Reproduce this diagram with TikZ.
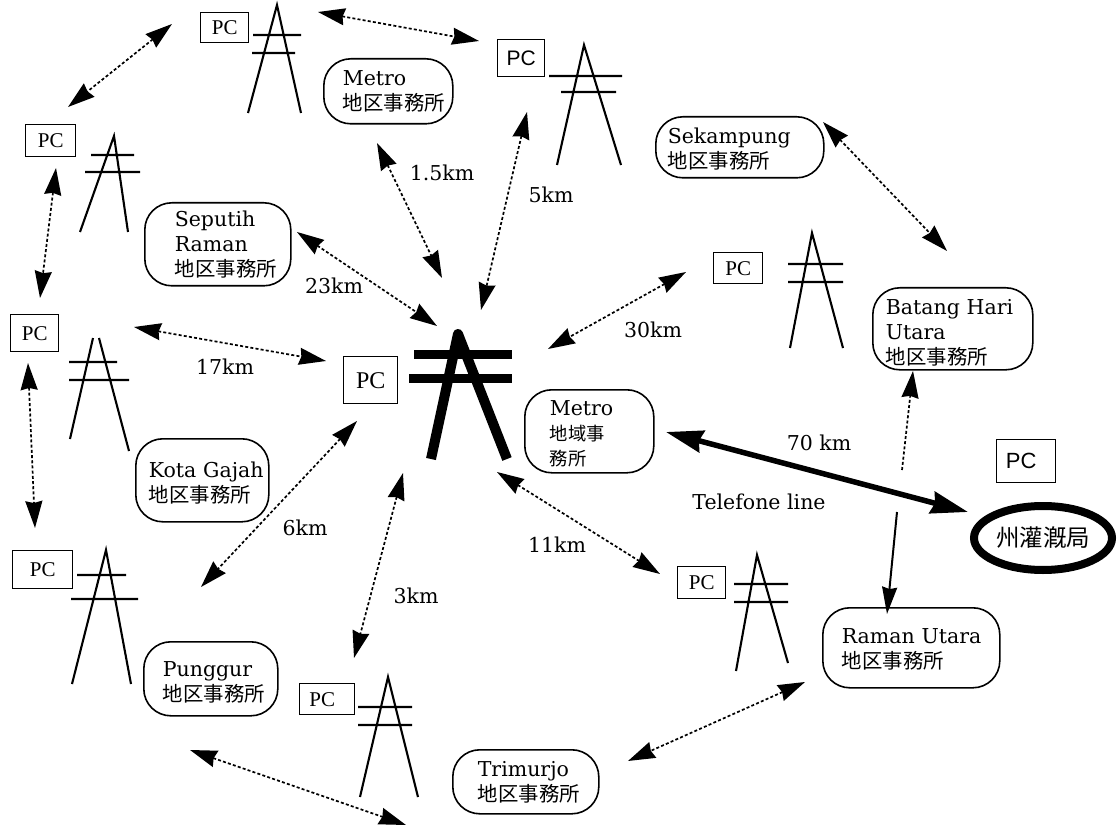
\documentclass[tikz,border=0pt]{standalone}
\usepackage{fontspec}
\usetikzlibrary{arrows.meta,shapes.geometric}
\setmainfont{DejaVu Serif}
\newfontfamily\cjk{Noto Sans CJK JP}
\newfontfamily\pcsans{Liberation Sans}
\newfontfamily\pcserif{Liberation Serif}
\tikzset{
  x=1pt,y=-1pt,
  office/.style={draw,line width=1.6pt,rounded corners=27pt,align=left,inner ysep=0pt,anchor=north west,font=\fontsize{20.5}{25}\selectfont},
  pc/.style={draw,line width=1.4pt,inner sep=0pt,font=\pcserif\fontsize{21}{23}\selectfont,anchor=north west},
  lbl/.style={inner sep=0pt,font=\fontsize{20.5}{24}\selectfont},
  link/.style={dash pattern=on 3pt off 2.2pt,line width=1.7pt,{Stealth[length=27pt,width=17pt,inset=2pt]}-{Stealth[length=27pt,width=17pt,inset=2pt]}},
  mast/.style={line width=2.1pt},
}
\newcommand{\jp}[1]{{\cjk\fontsize{20.4}{25}\selectfont #1}}
\newcommand{\jps}[1]{{\cjk\fontsize{18.3}{25}\selectfont #1}}
\newcommand{\tower}[7]{\draw[mast] (#2) -- (#1) -- (#3) (#4) -- (#5) (#6) -- (#7);}
\newcommand{\topstrut}[1]{\rule{0pt}{#1pt}}
% name, x1, y1, x2, y2, inset, text
\newcommand{\officebox}[7]{\pgfmathsetmacro\tw{#4-#2-2*#6}\pgfmathsetmacro\th{#5-#3}\node[office,inner xsep=#6pt,text width=\tw pt,minimum height=\th pt] (#1) at (#2,#3) {#7};}
\newcommand{\pcbox}[6][]{\pgfmathsetmacro\tw{#5-#3}\pgfmathsetmacro\th{#6-#4}\node[pc,minimum width=\tw pt,minimum height=\th pt,#1] (#2) at (#3,#4) {PC};}
\newcommand{\linkar}[5]{\coordinate (#1a) at (#2,#3); \coordinate (#1b) at (#4,#5); \draw[link] (#1a) -- (#1b);}
\begin{document}
\begin{tikzpicture}
\useasboundingbox (0,0) rectangle (1117,829);
% towers
\tower{277,5}{248,113}{301,113}{253,35}{301,35}{252,53}{295,53}
\tower{584,45}{557,165}{621,165}{549,76}{622,76}{561,92}{616,92}
\tower{114,136}{80,232}{128,232}{91,155}{134,155}{85,172}{140,172}
\draw[mast] (93,338) -- (70,439) (99,338) -- (129,451) (69,362) -- (117,362) (69,380) -- (129,380);
\tower{812,233}{790,348}{843,348}{788,264}{843,264}{788,282}{843,282}
\tower{757,555}{736,671}{788,663}{734,584}{788,584}{734,602}{788,602}
\tower{106,550}{72,684}{131,684}{77,575}{126,575}{71,599}{138,599}
\tower{388,677}{360,797}{418,797}{358,707}{412,707}{358,725}{412,725}
\draw[line width=10pt,line join=round] (431,459) -- (458,334) -- (507,459);
\draw[line width=9pt] (414,354.5) -- (512,354.5) (409,378.5) -- (512,378.5);
% PC boxes
\pcbox{pcA}{200}{12}{248}{42}
\pcbox[font=\pcsans\fontsize{21}{23}\selectfont]{pcB}{497}{39}{544}{76}
\pcbox{pcC}{25}{124}{75}{156}
\pcbox{pcD}{10}{314}{58}{351}
\pcbox[font=\pcserif\fontsize{24}{26}\selectfont]{pcE}{343}{356}{397}{403}
\pcbox{pcF}{713}{252}{762}{283}
\node[pc,minimum width=59pt,minimum height=43pt,font=\pcsans\fontsize{22}{24}\selectfont] (pcG) at (996,439) {PC\kern10pt};
\pcbox{pcH}{12}{550}{72}{588}
\pcbox{pcI}{677}{566}{725}{598}
\node[pc,minimum width=55pt,minimum height=31pt] (pcJ) at (299,683) {PC\kern10pt};
% offices
\officebox{oMetro}{323}{58}{452}{123}{19}{Metro\\\jp{地区事務所}}
\officebox{oSek}{655}{116}{823}{177}{12}{\topstrut{20}Sekampung\\\jp{地区事務所}}
\officebox{oSep}{144}{202}{290}{285}{30}{Seputih\\Raman\\\jp{地区事務所}}
\officebox{oBat}{872}{287}{1032}{369}{13}{\topstrut{24}\mbox{Batang Hari}\\Utara\\\jp{地区事務所}}
\officebox{oMain}{524}{389}{653}{472}{25}{\topstrut{19}Metro\\\jps{地域事}\\\jps{務所}}
\officebox{oKota}{135}{438}{268}{521}{13}{\topstrut{21}\mbox{Kota Gajah}\\\jp{地区事務所}}
\officebox{oPun}{143}{641}{277}{715}{19}{\topstrut{23}Punggur\\\jp{地区事務所}}
\officebox{oRam}{822}{607}{999}{687}{19}{\topstrut{18}\mbox{Raman Utara}\\\jp{地区事務所}}
\officebox{oTri}{452}{749}{598}{813}{25}{Trimurjo\\\mbox{\jp{地区事務所}}}
\node[ellipse,draw,line width=8pt,minimum width=138pt,minimum height=64pt,inner sep=0pt,font=\cjk\fontsize{23.5}{26}\selectfont] (oProv) at (1043,538) {州灌漑局};
% links
\linkar{a}{172}{24}{68}{107}
\linkar{b}{318}{12}{479}{41}
\linkar{c}{56}{168}{40}{298}
\linkar{d}{28}{363}{35}{528}
\linkar{e}{134}{327}{326}{361}
\linkar{f}{297}{232}{437}{326}
\linkar{g}{377}{143}{442}{278}
\linkar{h}{527}{112}{481}{310}
\linkar{i}{686}{272}{548}{349}
\linkar{j}{357}{421}{201}{587}
\linkar{k}{497}{472}{660}{574}
\linkar{l}{403}{473}{354}{658}
\linkar{m}{823}{122}{947}{251}
\linkar{n}{805}{682}{628}{761}
\linkar{o}{190}{750}{406}{825}
\coordinate (p1) at (902,470); \coordinate (p2) at (913,371);
\draw[dash pattern=on 3pt off 2.2pt,line width=1.7pt,-{Stealth[length=27pt,width=17pt,inset=2pt]}] (p1) -- (p2);
\coordinate (q1) at (897,512); \coordinate (q2) at (887,614);
\draw[line width=2pt,-{Stealth[length=27pt,width=15pt,inset=2pt]}] (q1) -- (q2);
\coordinate (r1) at (666,432); \coordinate (r2) at (968,512);
\draw[line width=5.5pt,{Stealth[length=37pt,width=22pt,inset=3pt]}-{Stealth[length=37pt,width=22pt,inset=3pt]}] (r1) -- (r2);
% labels
\node[lbl] (t1) at (442,173) {1.5km};
\node[lbl] (t2) at (551,195) {5km};
\node[lbl] (t3) at (334,286) {23km};
\node[lbl] (t4) at (225,367) {17km};
\node[lbl] (t5) at (653,330) {30km};
\node[lbl] (t6) at (305,528) {6km};
\node[lbl] (t7) at (557,545) {11km};
\node[lbl] (t8) at (416,596) {3km};
\node[lbl] (t9) at (819,443) {70 km};
\node[lbl] (t10) at (759,502) {Telefone line};
\end{tikzpicture}
\end{document}
